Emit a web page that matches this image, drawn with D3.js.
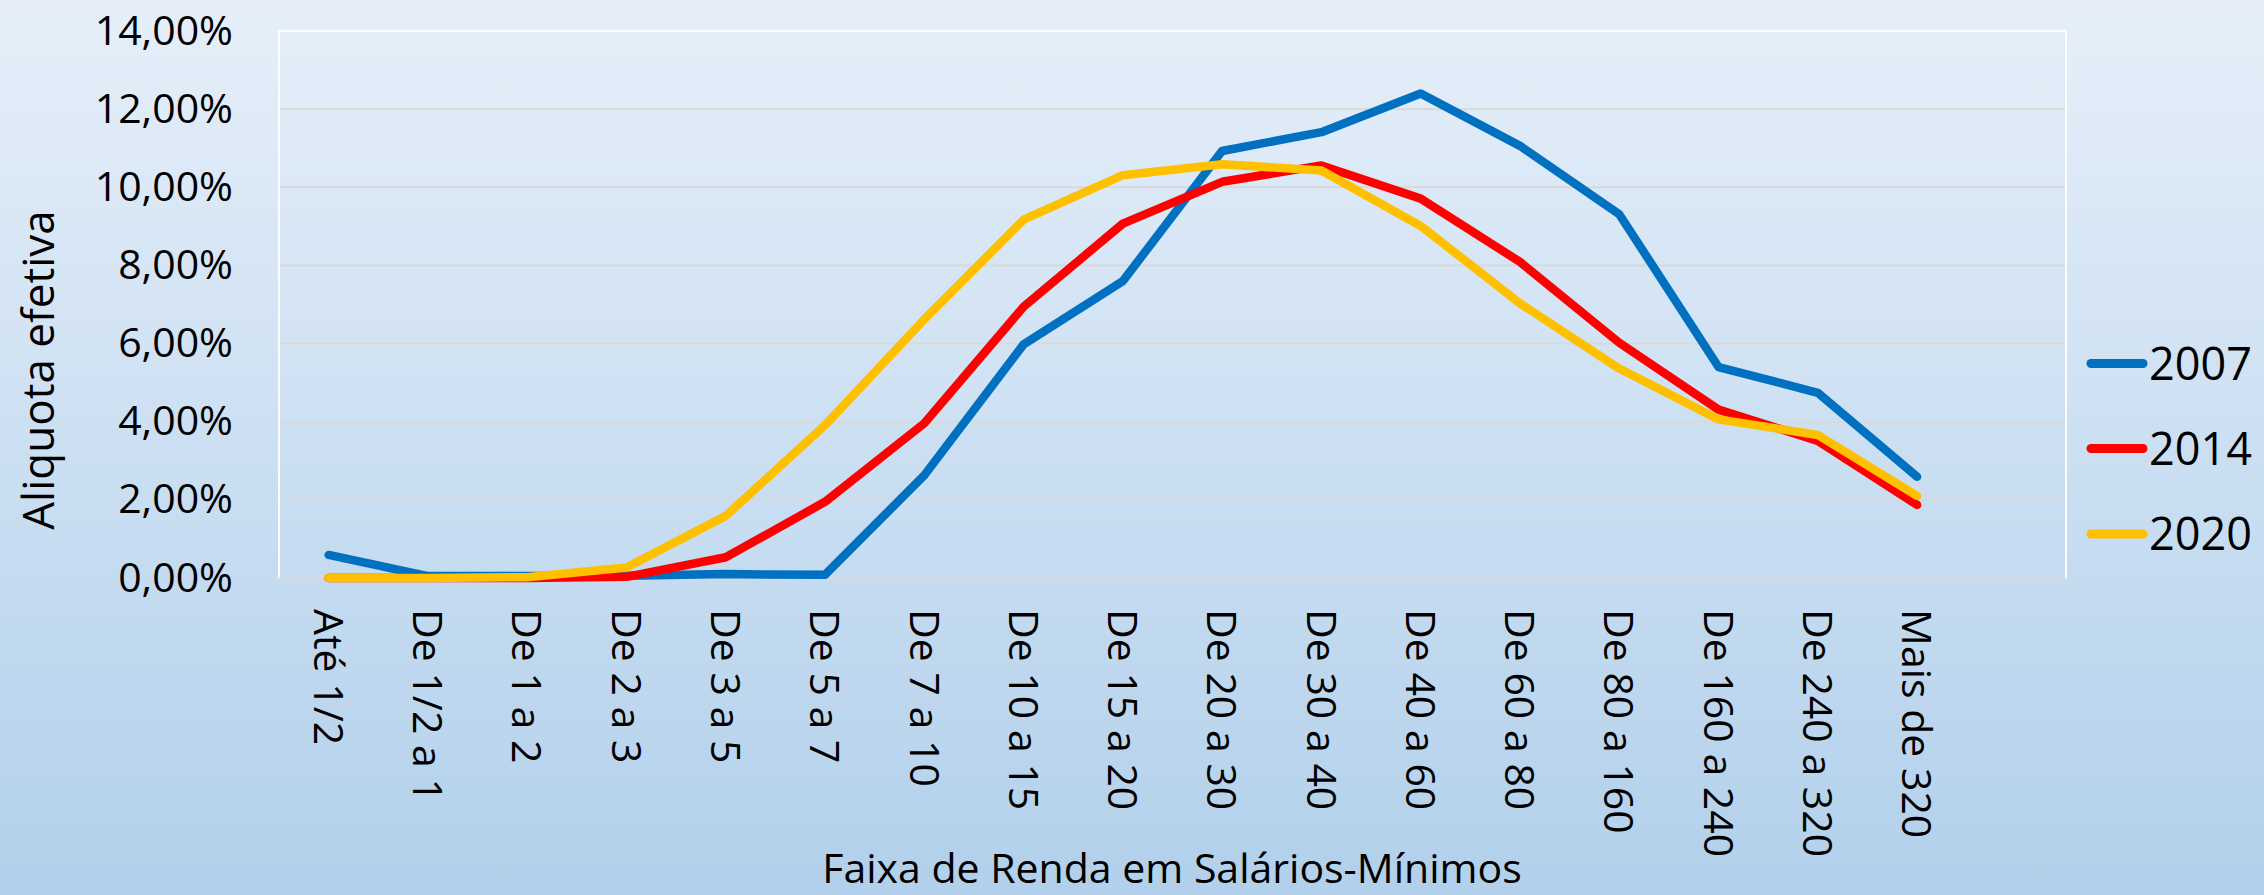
<!DOCTYPE html>
<html>
<head>
<meta charset="utf-8">
<script src="https://cdn.jsdelivr.net/npm/d3@7"></script>
<style>
  html, body { margin: 0; padding: 0; }
  body { width: 2264px; height: 895px; overflow: hidden; }
  svg text { font-family: "Open Sans", "Noto Sans", sans-serif; fill: #000; }
</style>
</head>
<body>
<svg id="chart" width="2264" height="895"></svg>
<script>
const categories = ["Até 1/2","De 1/2 a 1","De 1 a 2","De 2 a 3","De 3 a 5","De 5 a 7","De 7 a 10",
  "De 10 a 15","De 15 a 20","De 20 a 30","De 30 a 40","De 40 a 60","De 60 a 80","De 80 a 160",
  "De 160 a 240","De 240 a 320","Mais de 320"];
const seriesNames = ["2007","2014","2020"];
const values2007 = [0.59,0.05,0.05,0.06,0.10,0.08,2.63,5.98,7.60,10.93,11.41,12.40,11.06,9.31,5.40,4.74,2.59];
const values2014 = [0.00,0.00,0.00,0.03,0.53,1.95,3.96,6.94,9.07,10.14,10.56,9.71,8.09,6.02,4.31,3.51,1.87];
const values2020 = [0.00,0.00,0.02,0.27,1.59,3.91,6.62,9.17,10.31,10.59,10.43,9.01,7.03,5.36,4.06,3.66,2.10];
const yTicks = [0,2,4,6,8,10,12,14];
const axisTitleX = "Faixa de Renda em Salários-Mínimos";
const axisTitleY = "Aliquota efetiva";
const colors = ["#0070c0","#ff0000","#ffc000"];

const W = 2264, H = 895;
const plot = {left: 279, right: 2066, top: 31, bottom: 578};
const svg = d3.select("#chart");

// background gradient
const defs = svg.append("defs");
const grad = defs.append("linearGradient").attr("id","bg").attr("x1",0).attr("y1",0).attr("x2",0).attr("y2",1);
grad.append("stop").attr("offset","0%").attr("stop-color","#e6eff9");
grad.append("stop").attr("offset","100%").attr("stop-color","#b2d0eb");
svg.append("rect").attr("width",W).attr("height",H).attr("fill","url(#bg)");

const slots = categories.concat([" "]);
const x = d3.scaleBand().domain(slots).range([plot.left, plot.right]).paddingInner(0).paddingOuter(0);
const cx = c => x(c) + x.bandwidth()/2;
const y = d3.scaleLinear().domain([0,14]).range([plot.bottom, plot.top]);

const loc = d3.formatLocale({decimal: ",", thousands: ".", grouping: [3], currency: ["R$",""]});
const fmt = v => loc.format(".2f")(v) + "%";

// gridlines
svg.append("g").selectAll("line").data(yTicks.filter(t => t > 0 && t < 14)).join("line")
  .attr("x1", plot.left).attr("x2", plot.right)
  .attr("y1", d => y(d)).attr("y2", d => y(d))
  .attr("stroke", "#d9d9d9").attr("stroke-width", 2);

// plot border
svg.append("rect").attr("x", plot.left).attr("y", plot.top)
  .attr("width", plot.right - plot.left).attr("height", plot.bottom - plot.top)
  .attr("fill", "none").attr("stroke", "#ffffff").attr("stroke-width", 2).attr("stroke-opacity", 0.9);
// category axis line
svg.append("line").attr("x1", plot.left).attr("x2", plot.right)
  .attr("y1", plot.bottom).attr("y2", plot.bottom)
  .attr("stroke", "#d9d9d9").attr("stroke-width", 2);

// y axis
const yAxis = svg.append("g").attr("transform", `translate(${plot.left},0)`)
  .call(d3.axisLeft(y).tickValues(yTicks).tickFormat(fmt).tickSize(0).tickPadding(46));
yAxis.select(".domain").remove();
yAxis.selectAll("text").style("font-size", "41px").style("font-family", '"Open Sans", sans-serif').attr("fill", "#000");

// x axis
const xAxis = svg.append("g").attr("transform", `translate(0,${plot.bottom})`)
  .call(d3.axisBottom(x).tickSize(0));
xAxis.select(".domain").remove();
xAxis.selectAll("text")
  .attr("transform", "rotate(90)")
  .attr("y", 0).attr("x", 31).attr("dy", "0.36em")
  .style("text-anchor", "start")
  .style("font-size", "41px").style("font-family", '"Open Sans", sans-serif').attr("fill", "#000");

// lines
const allSeries = [values2007, values2014, values2020];
const line = d3.line().x((d, i) => cx(categories[i])).y(d => y(d));
svg.append("g").selectAll("path").data(allSeries).join("path")
  .attr("d", d => line(d))
  .attr("fill", "none")
  .attr("stroke", (d, i) => colors[i])
  .attr("stroke-width", 8.5)
  .attr("stroke-linecap", "round")
  .attr("stroke-linejoin", "round");

// axis titles
svg.append("text").attr("x", 1172).attr("y", 883).attr("text-anchor", "middle")
  .style("font-size", "41px").text(axisTitleX);
svg.append("text").attr("transform", "translate(54,370) rotate(-90)").attr("text-anchor", "middle")
  .style("font-size", "44px").text(axisTitleY);

// legend
const legendY = [363.5, 448.5, 534];
const lg = svg.append("g").selectAll("g").data(seriesNames).join("g")
  .attr("transform", (d, i) => `translate(2087,${legendY[i]})`);
lg.append("line").attr("x1", 4).attr("x2", 56).attr("y1", 0).attr("y2", 0)
  .attr("stroke", (d, i) => colors[i]).attr("stroke-width", 9).attr("stroke-linecap", "round");
lg.append("text").attr("x", 62).attr("dy", "0.36em").style("font-size", "45px").text(d => d);
</script>
</body>
</html>
